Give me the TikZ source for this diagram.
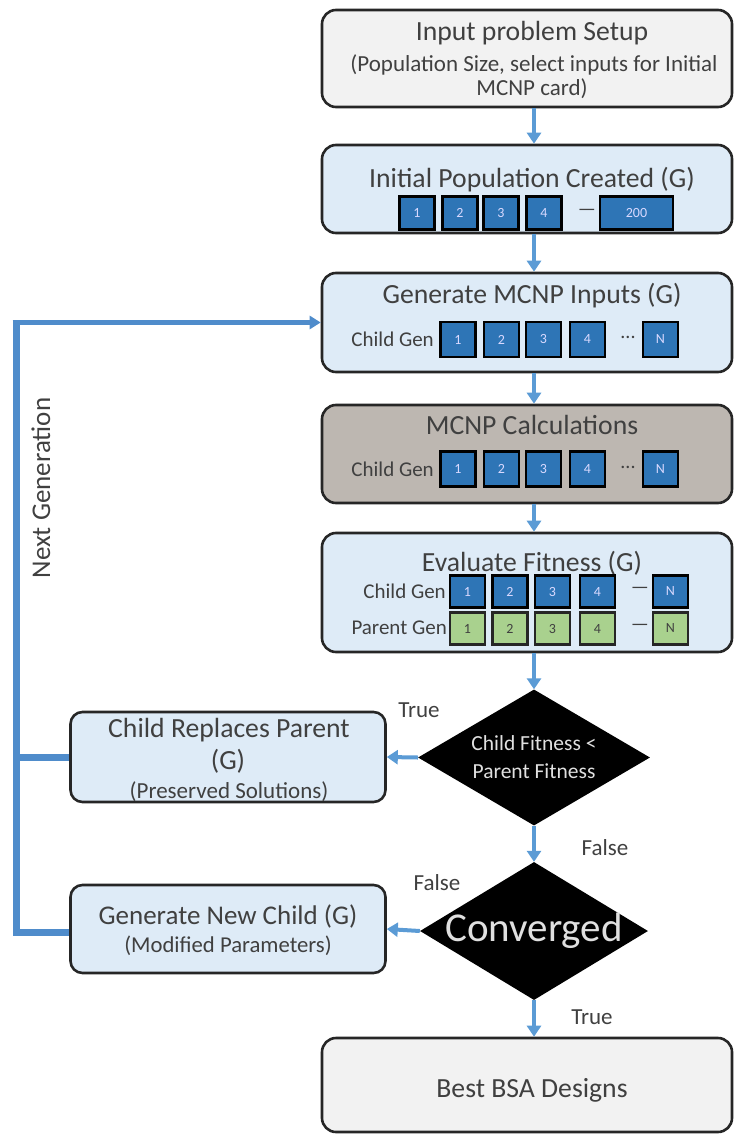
\documentclass[tikz,border=0pt]{standalone}
\usepackage{fontspec}
\setmainfont{Carlito}
\usetikzlibrary{shapes.geometric,arrows.meta}
\definecolor{flowblue}{HTML}{5B9BD5}
\definecolor{loopblue}{HTML}{4F8CCB}
\definecolor{boxblue}{HTML}{DEEBF7}
\definecolor{boxgrey}{HTML}{F2F2F2}
\definecolor{calcgrey}{HTML}{BDB7B1}
\definecolor{sqblue}{HTML}{2E75B6}
\definecolor{sqgreen}{HTML}{A9D18E}
\definecolor{txt}{HTML}{404040}
\tikzset{
  x=1pt, y=-1pt,
  flowbox/.style={draw=black!85, line width=2.6pt, rounded corners=14pt, inner sep=0pt},
  titletxt/.style={text=txt, font=\fontsize{27.7}{30}\selectfont, inner sep=0pt},
  subtxt/.style={text=txt, font=\fontsize{23}{26}\selectfont, inner sep=0pt},
  gentxt/.style={text=txt, font=\fontsize{21}{24}\selectfont, inner sep=0pt, anchor=east},
  sqb/.style={draw=black, line width=2.6pt, fill=sqblue, minimum width=35pt, minimum height=33pt, inner sep=0pt, text=blue!15, font=\fontsize{14}{16}\selectfont},
  sqg/.style={draw=black!85, line width=2.6pt, fill=sqgreen, minimum width=35pt, minimum height=32pt, inner sep=0pt, text=txt, font=\fontsize{14}{16}\selectfont},
  dots/.style={text=txt, font=\fontsize{20}{22}\selectfont, inner sep=0pt},
  decision/.style={diamond, fill=black, draw=none, aspect=1.7, inner sep=0pt, minimum width=232pt, minimum height=136pt, text=white!88!black, align=center},
  flow/.style={draw=flowblue, line width=4pt, -{Triangle[width=14pt,length=11pt]}},
  loopline/.style={draw=loopblue, line width=7pt},
  lbl/.style={text=txt, font=\fontsize{23}{26}\selectfont, inner sep=0pt},
}
\begin{document}
\begin{tikzpicture}
\useasboundingbox (0,0) rectangle (734,1134);

% main boxes
\node[flowbox, fill=boxgrey, minimum width=410pt, minimum height=97pt] (b1) at (527,58.5) {};
\node[flowbox, fill=boxblue, minimum width=410pt, minimum height=88pt] (b2) at (527,189) {};
\node[flowbox, fill=boxblue, minimum width=410pt, minimum height=99pt] (b3) at (527,322.5) {};
\node[flowbox, fill=calcgrey, minimum width=410pt, minimum height=98pt] (b4) at (527,454) {};
\node[flowbox, fill=boxblue, minimum width=410pt, minimum height=119pt] (b5) at (527,592.5) {};
\node[flowbox, fill=boxgrey, minimum width=410pt, minimum height=94pt] (b6) at (527,1085) {};
\node[flowbox, fill=boxblue, minimum width=315pt, minimum height=90pt, rounded corners=12pt] (crp) at (228,757) {};
\node[flowbox, fill=boxblue, minimum width=315pt, minimum height=88pt, rounded corners=12pt] (gnc) at (228,929) {};

% box texts
\node[titletxt] (t1) at (532,33) {Input problem Setup};
\node[subtxt] (t1a) at (534,65) {(Population Size, select inputs for Initial};
\node[subtxt] (t1b) at (532,89) {MCNP card)};
\node[titletxt] (t2) at (532,180) {Initial Population Created (G)};
\node[titletxt] (t3) at (532,296) {Generate MCNP Inputs (G)};
\node[titletxt] (t4) at (532,425) {MCNP Calculations};
\node[titletxt] (t5) at (532,563) {Evaluate Fitness (G)};
\node[titletxt] (t6) at (532,1090) {Best BSA Designs};
\node[titletxt] (tc1) at (229,730) {Child Replaces Parent};
\node[titletxt] (tc2) at (228,761) {(G)};
\node[subtxt] (tc3) at (229,792) {(Preserved Solutions)};
\node[titletxt, font=\fontsize{27}{30}\selectfont] (tg1) at (228,916) {Generate New Child (G)};
\node[subtxt, font=\fontsize{22.7}{26}\selectfont] (tg2) at (228,946) {(Modified Parameters)};

% box 2 squares
\node[sqb] (p1) at (417,213) {1};
\node[sqb] (p2) at (460,213) {2};
\node[sqb] (p3) at (501,213) {3};
\node[sqb] (p4) at (544,213) {4};
\node[dots] (pd) at (587,212) {---};
\node[sqb, minimum width=73pt] (p200) at (636.5,213) {200};

% box 3 squares
\node[gentxt] (g3) at (434,339) {Child Gen};
\node[sqb, minimum height=35pt] (c31) at (458,339.5) {1};
\node[sqb, minimum height=35pt] (c32) at (501.5,339.5) {2};
\node[sqb, minimum height=35pt] (c33) at (543.5,339.5) {3};
\node[sqb, minimum height=35pt] (c34) at (587.5,339.5) {4};
\node[dots] (c3d) at (628,337) {...};
\node[sqb, minimum height=35pt] (c3n) at (660.5,339.5) {N};

% box 4 squares
\node[gentxt] (g4) at (434,469) {Child Gen};
\node[sqb, minimum height=35pt] (c41) at (458,469) {1};
\node[sqb, minimum height=35pt] (c42) at (501.5,469) {2};
\node[sqb, minimum height=35pt] (c43) at (543.5,469) {3};
\node[sqb, minimum height=35pt] (c44) at (587.5,469) {4};
\node[dots] (c4d) at (628,467) {...};
\node[sqb, minimum height=35pt] (c4n) at (660.5,469) {N};

% box 5 squares
\node[gentxt] (g5a) at (446,591) {Child Gen};
\node[gentxt] (g5b) at (447,628) {Parent Gen};
\node[sqb, minimum height=32pt] (c51) at (467.5,591.5) {1};
\node[sqb, minimum height=32pt] (c52) at (510,591.5) {2};
\node[sqb, minimum height=32pt] (c53) at (552.5,591.5) {3};
\node[sqb, minimum height=32pt] (c54) at (597.5,591.5) {4};
\node[dots] (c5d) at (640,590) {---};
\node[sqb, minimum height=32pt] (c5n) at (670.5,591.5) {N};
\node[sqg] (q51) at (467.5,628.5) {1};
\node[sqg] (q52) at (510,628.5) {2};
\node[sqg] (q53) at (552.5,628.5) {3};
\node[sqg] (q54) at (597.5,628.5) {4};
\node[dots] (q5d) at (640,627) {---};
\node[sqg] (q5n) at (670.5,628.5) {N};

% decisions
\node[decision, inner sep=-4pt, font=\fontsize{21.5}{28}\selectfont] (d1) at (534,757.5) {Child Fitness <\\Parent Fitness};
\node[decision, minimum width=228pt, minimum height=138pt, inner sep=-10pt, font=\fontsize{41}{43}\selectfont] (d2) at (534,931) {Converged};

% flow arrows
\draw[flow] (b1.south -| d1) -- (b2.north -| d1);
\draw[flow] (b2.south -| d1) -- (b3.north -| d1);
\draw[flow] (b3.south -| d1) -- (b4.north -| d1);
\draw[flow] (b4.south -| d1) -- (b5.north -| d1);
\draw[flow] (b5.south -| d1) -- (d1.north);
\draw[flow] (d1.south) -- (d2.north);
\draw[flow] (d2.south) -- (b6.north -| d2);
\draw[flow] (d1.west) -- (crp.east);
\draw[flow] (d2.west) -- (gnc.east);

% next generation loop
\coordinate (ltop) at (16,322.5);
\coordinate (lbot) at (16,932);
\draw[loopline] (gnc.west |- lbot) -- (lbot) -- ([yshift=-2pt]ltop);
\draw[loopline] (crp.west) -- (crp.west -| ltop);
\draw[draw=loopblue, line width=5pt, -{Triangle[width=13pt,length=11pt]}] ([xshift=-3.5pt]ltop) -- (b3.west);
\node[lbl, rotate=90, font=\fontsize{27}{30}\selectfont] (ng) at (41,488) {Next Generation};

% labels
\node[lbl] (lt1) at (419,710) {True};
\node[lbl] (lf1) at (605,848) {False};
\node[lbl] (lf2) at (437,883) {False};
\node[lbl] (lt2) at (592,1017) {True};
\end{tikzpicture}
\end{document}
